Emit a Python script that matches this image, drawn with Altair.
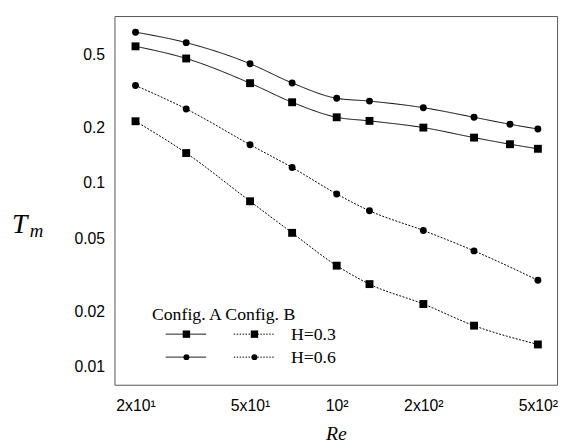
import altair as alt
import pandas as pd

# ---- data ----
re_values = [20, 30, 50, 70, 100, 130, 200, 300, 400, 500]
tm_A_H03 = [0.552, 0.474, 0.348, 0.274, 0.227, 0.217, 0.1995, 0.176, 0.162, 0.153]
tm_A_H06 = [0.659, 0.578, 0.444, 0.349, 0.288, 0.278, 0.256, 0.227, 0.208, 0.196]
tm_B_H03 = [0.216, 0.145, 0.0793, 0.0534, 0.0354, 0.0281, 0.0219, 0.0167, 0.0132]
tm_B_H06 = [0.338, 0.252, 0.161, 0.121, 0.0869, 0.0704, 0.0550, 0.0426, 0.0295]
re_values_B = [20, 30, 50, 70, 100, 130, 200, 300, 500]

x_tick_values = [20, 50, 100, 200, 500]
x_tick_labels = ["2x10\u00b9", "5x10\u00b9", "10\u00b2", "2x10\u00b2", "5x10\u00b2"]
y_tick_values = [0.01, 0.02, 0.05, 0.1, 0.2, 0.5]
y_tick_labels = ["0.01", "0.02", "0.05", "0.1", "0.2", "0.5"]

SERIF = "Liberation Serif, Times New Roman, Tinos, DejaVu Serif, serif"
SANS = "Liberation Sans, Arial, Arimo, sans-serif"

rows = []
for cfg, h, xs, ys in [("A", "0.3", re_values, tm_A_H03),
                       ("A", "0.6", re_values, tm_A_H06),
                       ("B", "0.3", re_values_B, tm_B_H03),
                       ("B", "0.6", re_values_B, tm_B_H06)]:
    for xv, yv in zip(xs, ys):
        rows.append({"config": cfg, "H": h, "series": cfg + h, "Re": xv, "Tm": yv})
df = pd.DataFrame(rows)


def label_expr(vals, labels):
    expr = "''"
    for v, l in reversed(list(zip(vals, labels))):
        expr = f"datum.value == {v} ? '{l}' : ({expr})"
    return expr


x_scale = alt.Scale(type="log", domain=[16.9, 583], nice=False)
y_scale = alt.Scale(type="log", domain=[0.00797, 0.8065], nice=False)

x_enc = alt.X("Re:Q", scale=x_scale, axis=alt.Axis(
    values=x_tick_values, labelExpr=label_expr(x_tick_values, x_tick_labels),
    grid=False, ticks=False, domain=False, labelFlush=False, labelOverlap=False,
    labelFont=SANS, labelFontSize=16, labelColor="black", labelPadding=13,
    title="Re", titleFont=SERIF, titleFontStyle="italic",
    titleFontWeight="normal", titleFontSize=20, titleColor="black", titlePadding=11))
y_enc = alt.Y("Tm:Q", scale=y_scale, axis=alt.Axis(
    values=y_tick_values, labelExpr=label_expr(y_tick_values, y_tick_labels),
    grid=False, ticks=False, domain=False, labelFlush=False, labelOverlap=False,
    labelFont=SANS, labelFontSize=16, labelColor="black", labelPadding=10,
    title=None))

base = alt.Chart(df)
lines = base.mark_line(interpolate="monotone", color="black", strokeWidth=1).encode(
    x=x_enc, y=y_enc, detail="series:N",
    strokeDash=alt.StrokeDash("config:N", scale=alt.Scale(domain=["A", "B"], range=[[1, 0], [2, 1.5]]), legend=None))
points = base.mark_point(filled=True, color="black", opacity=1).encode(
    x=x_enc, y=y_enc,
    shape=alt.Shape("H:N", scale=alt.Scale(domain=["0.3", "0.6"], range=["square", "circle"]), legend=None),
    size=alt.Size("H:N", scale=alt.Scale(domain=["0.3", "0.6"], range=[64, 49]), legend=None))

one = pd.DataFrame({"k": [0]})


def txt(s, x, y, size, style="normal", font=SERIF):
    return alt.Chart(one).mark_text(text=s, align="left", baseline="alphabetic", font=font,
                                    fontSize=size, fontStyle=style, color="black").encode(
        x=alt.value(x), y=alt.value(y))


def seg(x1, x2, y, dash):
    return alt.Chart(one).mark_rule(color="black", strokeWidth=1, strokeDash=dash).encode(
        x=alt.value(x1), x2=alt.value(x2), y=alt.value(y))


def sym(x, y, shape, size):
    return alt.Chart(one).mark_point(filled=True, color="black", opacity=1, shape=shape, size=size).encode(
        x=alt.value(x), y=alt.value(y))


annot = [
    txt("T", -104, 220, 28, "italic"),
    txt("m", -86, 224, 19, "italic"),
    txt("Config. A Config. B", 38, 308, 18),
    seg(52, 93, 322.7, [1, 0]), sym(73, 322.7, "square", 56),
    seg(121, 162, 322.7, [1.5, 1.5]), sym(142, 322.7, "square", 56),
    txt("H=0.3", 179, 329, 18),
    seg(52, 93, 346, [1, 0]), sym(73, 346, "circle", 36),
    seg(121, 162, 346, [1.5, 1.5]), sym(142, 346, "circle", 36),
    txt("H=0.6", 179, 352, 18),
]

chart = alt.layer(lines, points, *annot).properties(
    width=449, height=374,
    autosize=alt.AutoSizeParams(type="none"),
    padding={"left": 108, "top": 5, "right": 6, "bottom": 60},
).configure_view(stroke="#555555", strokeWidth=1)

chart.save("out.html", embed_options={"renderer": "svg", "actions": False})
